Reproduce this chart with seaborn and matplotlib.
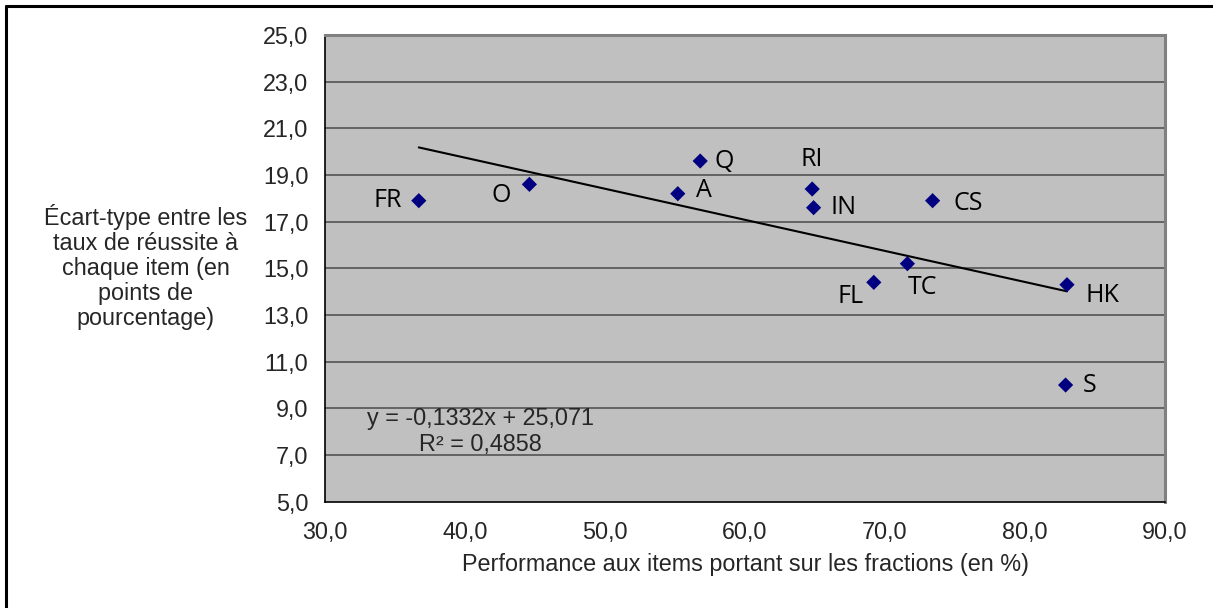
import numpy as np
import pandas as pd
import seaborn as sns
import matplotlib.pyplot as plt
from matplotlib.lines import Line2D
from matplotlib.ticker import FuncFormatter

# Données
codes = ['FR', 'O', 'A', 'Q', 'RI', 'IN', 'CS', 'TC', 'FL', 'HK', 'S']
performance = [36.7, 44.6, 55.2, 56.8, 64.8, 64.9, 73.4, 71.6, 69.2, 83.0, 82.9]
ecart_type = [17.9, 18.6, 18.2, 19.6, 18.4, 17.6, 17.9, 15.2, 14.4, 14.3, 10.0]

# Droite de tendance (Excel)
pente = -0.1332
ordonnee = 25.071
r2 = 0.4858

df = pd.DataFrame({'code': codes, 'perf': performance, 'sd': ecart_type})

sns.set_style('white')
plt.rcParams['font.family'] = ['Liberation Sans', 'DejaVu Sans']
taille = 16.8

fig = plt.figure(figsize=(12.13, 6.08), dpi=100)
ax = fig.add_axes([325 / 1213, 1 - 501.7 / 608, 840 / 1213, 466.7 / 608])
ax.set_facecolor('#c0c0c0')

# lignes de grille horizontales
for v in np.arange(7, 25, 2):
    ax.axhline(v, color='#4a4a4a', lw=1.1, zorder=1)

# tendance
xs = np.array([df['perf'].min(), df['perf'].max()])
sns.lineplot(x=xs, y=pente * xs + ordonnee, color='black', lw=1.5, ax=ax, zorder=2)

sns.scatterplot(data=df, x='perf', y='sd', marker='D', color='#000080',
                s=60, edgecolor='none', ax=ax, zorder=3)

# décalage des étiquettes (points) et alignement
decal = {
    'FR': (-12, 0, 'right'), 'O': (-13, -8, 'right'), 'A': (13, 2, 'left'),
    'Q': (10, 0, 'left'), 'RI': (0, 21, 'center'), 'IN': (12, 0, 'left'),
    'CS': (15, -2, 'left'), 'TC': (0, -17, 'left'), 'FL': (-7, -10, 'right'),
    'HK': (13, -8, 'left'), 'S': (12, 0, 'left'),
}
for c, x, y in zip(codes, performance, ecart_type):
    dx, dy, ha = decal[c]
    ax.annotate(c, (x, y), xytext=(dx, dy), textcoords='offset points',
                ha=ha, va='center', fontsize=18, family=['Open Sans', 'DejaVu Sans'],
                color='black', zorder=4)

eq = f'y = {pente:.4f}x + {ordonnee:.3f}\nR² = {r2:.4f}'.replace('.', ',')
ax.text(41.1, 8.0, eq, ha='center', va='center', multialignment='center',
        fontsize=taille, linespacing=1.15, zorder=4)

ax.set_xlim(30, 90)
ax.set_ylim(5, 25)
ax.set_xticks(np.arange(30, 91, 10))
ax.set_yticks(np.arange(5, 26, 2))
fmt = FuncFormatter(lambda v, p: f'{v:.1f}'.replace('.', ','))
ax.xaxis.set_major_formatter(fmt)
ax.yaxis.set_major_formatter(fmt)
ax.tick_params(axis='both', direction='out', length=6, width=1, color='black',
               labelsize=taille, pad=6)
ax.tick_params(axis='x', pad=8)
ax.set_xlabel('')
ax.set_ylabel('')

for s in ['left', 'bottom']:
    ax.spines[s].set_color('black')
    ax.spines[s].set_linewidth(1.2)
for s in ['top', 'right']:
    ax.spines[s].set_color('#808080')
    ax.spines[s].set_linewidth(2.2)

fig.text(745.5 / 1213, 1 - 565 / 608,
         'Performance aux items portant sur les fractions (en %)',
         ha='center', va='center', fontsize=taille)
fig.text(146 / 1213, 1 - 267 / 608,
         'Écart-type entre les\ntaux de réussite à\nchaque item (en\npoints de\npourcentage)',
         ha='center', va='center', multialignment='center', fontsize=taille,
         linespacing=1.12)

# cadre noir (coupé à droite et en bas)
fig.add_artist(Line2D([6 / 1213, 6 / 1213], [0, 1 - 6 / 608], color='black', lw=2.2,
                      transform=fig.transFigure))
fig.add_artist(Line2D([6 / 1213, 1], [1 - 6 / 608, 1 - 6 / 608], color='black', lw=2.2,
                      transform=fig.transFigure))

fig.savefig('out.png', dpi=100)
